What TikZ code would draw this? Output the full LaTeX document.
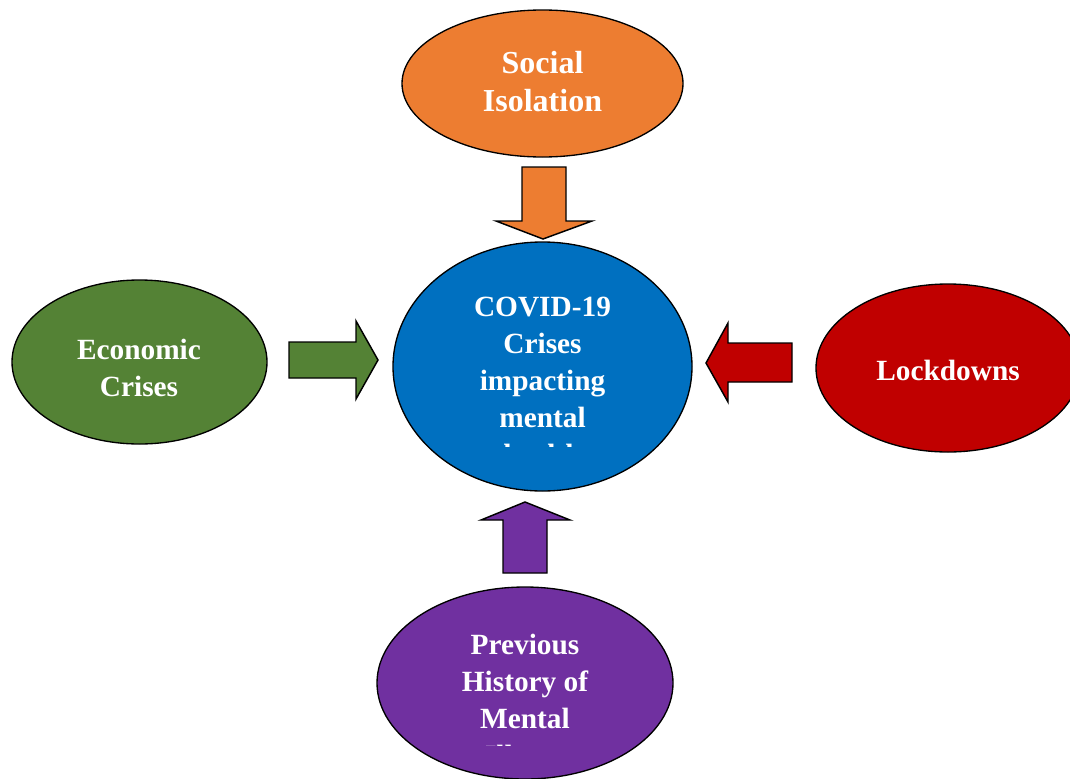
\documentclass[tikz,border=0pt]{standalone}
\usepackage{fontspec}
\setmainfont{Liberation Serif}
\usetikzlibrary{shapes.geometric}
\definecolor{corange}{HTML}{ED7D31}
\definecolor{cblue}{HTML}{0070C0}
\definecolor{cgreen}{HTML}{548235}
\definecolor{cred}{HTML}{C00000}
\definecolor{cpurple}{HTML}{7030A0}
\tikzset{
  oval/.style={ellipse, draw=black, line width=1pt, inner sep=0pt},
  lbl/.style={text=white, align=center, inner sep=0pt,
    font=\fontsize{22pt}{27.75pt}\selectfont\bfseries},
  biglbl/.style={lbl, font=\fontsize{24pt}{28.5pt}\selectfont\bfseries},
  blockarrow/.style={draw=black, line width=1.1pt, line join=miter}
}
\begin{document}
\begin{tikzpicture}[x=0.75pt,y=-0.75pt]
\useasboundingbox (0,0) rectangle (1070,778);
\clip (0,0) rectangle (1070,778);
\fill[white] (0,0) rectangle (1070,778);
% ellipses
\node[oval, fill=corange, minimum width=210.75pt, minimum height=110.25pt] (social) at (542.5,83.5) {};
\node[oval, fill=cblue, minimum width=224.25pt, minimum height=186.75pt] (covid) at (542.5,366.5) {};
\node[oval, fill=cgreen, minimum width=191.25pt, minimum height=123pt] (econ) at (139.5,362) {};
\node[oval, fill=cred, minimum width=198pt, minimum height=126pt] (lock) at (948,368) {};
\node[oval, fill=cpurple, minimum width=222pt, minimum height=144pt] (hist) at (525,683) {};
% labels
\node[biglbl] (socialtxt) at (542.5,81.5) {Social\\Isolation};
\node[lbl] (econtxt) at (139,368) {Economic\\Crises};
\node[lbl] (locktxt) at (948,370) {Lockdowns};
\begin{scope}
\clip (393,242) rectangle (692,446);
\node[lbl] (covidtxt) at (542.5,381) {COVID-19\\Crises\\impacting\\mental\\health};
\end{scope}
\begin{scope}
\clip (377,587) rectangle (673,745);
\node[lbl] (histtxt) at (525,700) {Previous\\History of\\Mental\\Illness};
\end{scope}
% block arrows
\draw[blockarrow, fill=corange] (522,167) -- (566,167) -- (566,221) -- (592,221) -- (543,239) -- (496,221) -- (522,221) -- cycle;
\draw[blockarrow, fill=cgreen] (289,342) -- (356,342) -- (356,321) -- (378,360) -- (356,399) -- (356,378) -- (289,378) -- cycle;
\draw[blockarrow, fill=cred] (792,343) -- (728,343) -- (728,323) -- (706,363) -- (728,402) -- (728,382) -- (792,382) -- cycle;
\draw[blockarrow, fill=cpurple] (503,573) -- (503,520) -- (481,520) -- (525,502) -- (570,520) -- (547,520) -- (547,573) -- cycle;
\end{tikzpicture}
\end{document}
